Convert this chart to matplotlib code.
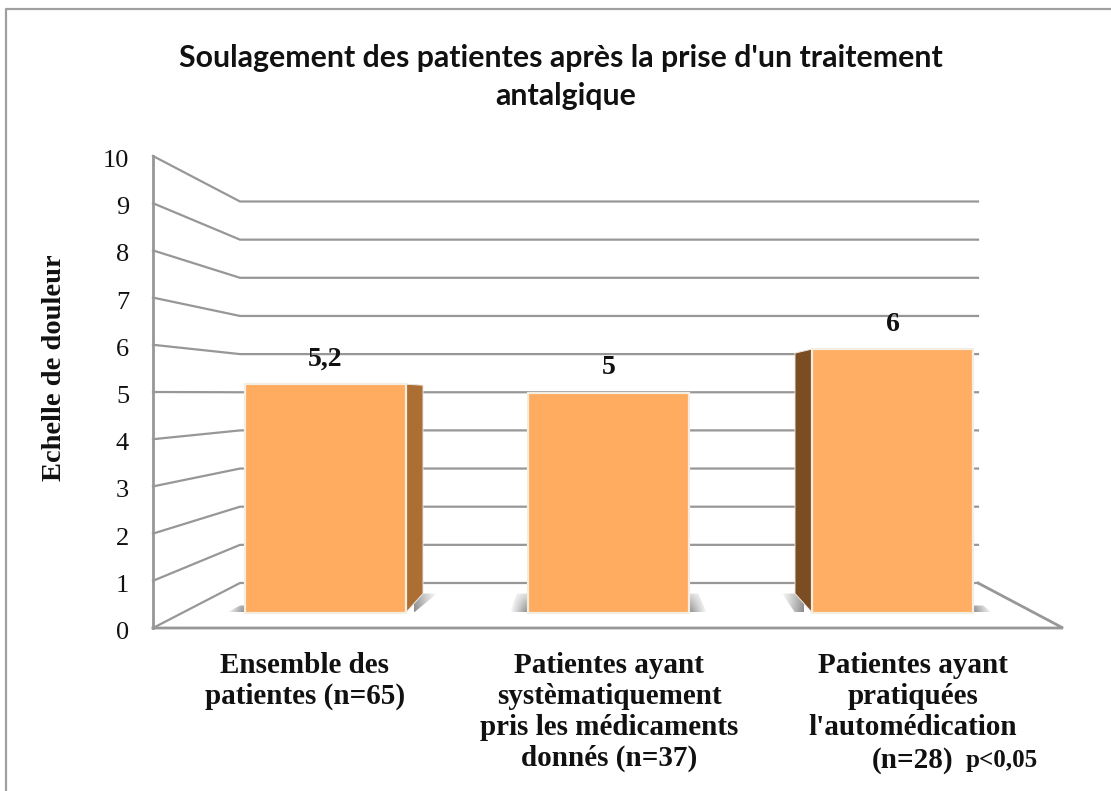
import numpy as np
import matplotlib
matplotlib.use("Agg")
import matplotlib.pyplot as plt
from matplotlib.patches import Polygon, Rectangle

title_lines = ["Soulagement des patientes après la prise d'un traitement", "antalgique"]
ylabel = "Echelle de douleur"
ticks = [0, 1, 2, 3, 4, 5, 6, 7, 8, 9, 10]
values = [5.2, 5.0, 6.0]
value_labels = ["5,2", "5", "6"]
categories = ["Ensemble des\npatientes (n=65)",
              "Patientes ayant\nsystèmatiquement\npris les médicaments\ndonnés (n=37)",
              "Patientes ayant\npratiquées\nl'automédication"]
extra_label = "(n=28)"
p_label = "p<0,05"

# Pixel geometry of the pseudo-3D frame
FRONT_X, BACK_X, BACK_END, FRONT_END = 153, 240, 978, 1063
front_y = lambda v: 628 - 47.2 * v
back_y = lambda v: 583 - 38.15 * v
bar_y = lambda v: 612.5 - 43.9 * v
BAR_LEFT = [245, 528, 812]
BAR_W = 161
LINE = "#979797"
SERIF = "Liberation Serif"
INK = "#111111"

fig = plt.figure(figsize=(11.11, 7.91), dpi=100, facecolor="white")
ax = fig.add_axes([0, 0, 1, 1])
ax.axis("off")

# outer frame
ax.plot([6, 6, 1111], [791, 9, 9], color="#a0a0a0", lw=1.6, zorder=1)

# walls and grid
for t in ticks:
    ax.plot([FRONT_X, BACK_X, BACK_END], [front_y(t), back_y(t), back_y(t)],
            color=LINE, lw=1.6, zorder=2, solid_joinstyle="miter")
    ax.text(129, front_y(t) + 5, str(t), ha="right", va="center",
            family=SERIF, fontsize=19, color=INK)
ax.plot([FRONT_X, FRONT_X], [front_y(0), front_y(10)], color=LINE, lw=2, zorder=2)
ax.plot([FRONT_X, FRONT_END, BACK_END], [front_y(0), front_y(0), back_y(0)],
        color=LINE, lw=2, zorder=2, solid_joinstyle="miter")


def shade(pts, x0, x1, rising, peak=0.8, vtop=0.8):
    """Soft shadow on the floor: polygon filled by a two-way fade."""
    h = np.linspace(0, 1, 64) if rising else np.linspace(1, 0, 64)
    v = np.linspace(vtop, 1, 32)
    rgba = np.zeros((32, 64, 4))
    rgba[..., :3] = 0.42
    rgba[..., 3] = np.outer(v, h) * peak
    ys = [p[1] for p in pts]
    im = ax.imshow(rgba, extent=(x0, x1, max(ys), min(ys)), aspect="auto", zorder=3)
    im.set_clip_path(Polygon(pts, closed=True, transform=ax.transData))


for i, (v, x) in enumerate(zip(values, BAR_LEFT)):
    top, bottom = bar_y(v), bar_y(0)
    r = x + BAR_W
    if i == 0:   # right side visible, shadow to the right
        shade([(r, bottom), (r + 17, bottom - 19), (r + 31, bottom - 19), (r + 8, bottom)], r + 8, r + 32, False)
        shade([(x - 18, bottom), (x - 5, bottom - 7), (x, bottom - 7), (x, bottom)], x - 18, x, True)
        ax.add_patch(Polygon([(r, top), (r + 17, top + 1), (r + 17, bottom - 19), (r, bottom)],
                             fc="#AC6E32", ec="#e9e4dc", lw=0.7, zorder=4))
    elif i == 2:  # left side visible, shadow to the left
        shade([(x - 30, bottom - 19), (x - 17, bottom - 19), (x, bottom), (x - 17, bottom)], x - 31, x - 8, True)
        shade([(r, bottom - 7), (r + 10, bottom - 7), (r + 19, bottom), (r, bottom)], r, r + 19, False)
        ax.add_patch(Polygon([(x, top), (x - 17, top + 4), (x - 17, bottom - 19), (x, bottom)],
                             fc="#7A4D23", ec="#e9e4dc", lw=0.7, zorder=4))
    else:
        shade([(x - 18, bottom), (x - 11, bottom - 19), (x, bottom - 19), (x, bottom)], x - 18, x, True, vtop=0.3)
        shade([(r, bottom - 19), (r + 9, bottom - 19), (r + 18, bottom), (r, bottom)], r, r + 18, False, vtop=0.3)
    ax.add_patch(Rectangle((x, top), BAR_W, bottom - top, fc="#FFAC60" if i < 2 else "#FFAE63",
                           ec="#f4ede2", lw=1.6, zorder=5))
    ax.text(x + BAR_W / 2, top - 25, value_labels[i], ha="center", va="center",
            family=SERIF, weight="bold", fontsize=20, color=INK, zorder=6)

# title and axis label
for s, x, y in zip(title_lines, [561, 566], [58, 96]):
    ax.text(x, y, s, ha="center", va="center", family="Lato", weight="bold",
            fontsize=21.8, color=INK)
ax.text(55, 368, ylabel, rotation=90, ha="center", va="center", family=SERIF,
        weight="bold", fontsize=20.5, color=INK)

# category labels
cat_x = [305, 609, 913]
for s, x in zip(categories, cat_x):
    ax.text(x, 652, s, ha="center", va="top", family=SERIF, weight="bold",
            fontsize=21, color=INK, linespacing=1.19)
ax.text(913, 760, extra_label, ha="center", va="center", family=SERIF, weight="bold",
        fontsize=21, color=INK)
ax.text(1002, 760, p_label, ha="center", va="center", family=SERIF, weight="bold",
        fontsize=18, color=INK)

ax.set_xlim(0, 1111)
ax.set_ylim(791, 0)
fig.savefig("out.png", dpi=100, facecolor="white")
